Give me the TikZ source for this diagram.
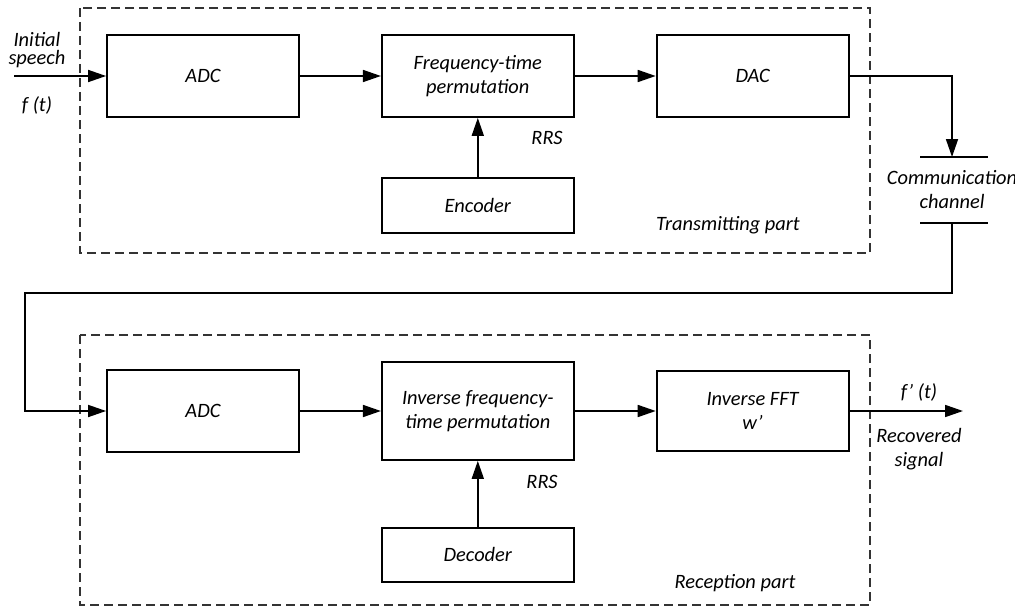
\documentclass[tikz,border=0pt]{standalone}
\usepackage{fontspec}
\setmainfont{Carlito}
\usetikzlibrary{positioning,arrows.meta}

\tikzset{
    block/.style={draw, line width=0.9pt, minimum width=96pt, minimum height=41pt, align=center, inner sep=0pt},
    part/.style={draw=black!80, line width=0.6pt, dash pattern=on 4.5pt off 2.5pt},
    sig/.style={line width=0.85pt, -{Triangle[length=9pt,width=6pt]}},
    wire/.style={line width=0.85pt},
    lbl/.style={align=center, inner sep=0pt}
}

\begin{document}
\begin{tikzpicture}[x=0.5pt, y=-0.5pt, font=\itshape\fontsize{10.2}{12}\selectfont, node distance=40.5pt]
    \useasboundingbox (0,0) rectangle (1015,610);

    % Parts
    \draw[part] (80,8) rectangle (870,253);
    \draw[part] (80,335) rectangle (870,605);
    \node[lbl] (tpart) at (728,225) {Transmitting part};
    \node[lbl] (rpart) at (735,583) {Reception part};

    % Transmitting blocks
    \node[block] (adc1) at (203,76) {ADC};
    \node[block, right=of adc1] (ftp) {Frequency-time\\permutation};
    \node[block, right=of ftp] (dac) {DAC};
    \node[block, minimum height=27.5pt, below=29.5pt of ftp] (enc) {Encoder};
    \node[lbl] (rrs1) at (547,138) {RRS};

    % Reception blocks
    \node[block] (adc2) at (203,411) {ADC};
    \node[block, minimum height=49pt, right=of adc2] (iftp) {Inverse frequency-\\time permutation};
    \node[block, minimum height=40pt, right=of iftp] (ifft) {Inverse FFT\\w'};
    \node[block, minimum height=27pt, below=33pt of iftp] (dec) {Decoder};
    \node[lbl] (rrs2) at (542,482) {RRS};

    % Input and output
    \coordinate (in) at (14,76);
    \node[lbl, font=\itshape\fontsize{10.2}{9}\selectfont] (inlbl) at (37,50) {Initial\\speech};
    \node[lbl] (ft) at (37,105) {f (t)};
    \coordinate (out) at (963,411);
    \node[lbl] (fpt) at (919,392) {f' (t)};
    \node[lbl] (outlbl) at (919,449) {Recovered\\signal};

    % Communication channel
    \coordinate (chtop) at (952,157);
    \coordinate (chbot) at (952,223);
    \coordinate (turn) at (25,293);
    \node[lbl] (chan) at (952,190) {Communication\\channel};
    \draw[wire] (920,157) -- (988,157);
    \draw[wire] (920,223) -- (988,223);

    % Signal flow
    \draw[sig] (in) -- (adc1.west);
    \draw[sig] (adc1) -- (ftp);
    \draw[sig] (ftp) -- (dac);
    \draw[sig] (enc) -- (ftp);
    \draw[sig] (dac.east) -| (chtop);
    \draw[sig] (chbot) |- (turn) |- (adc2.west);
    \draw[sig] (adc2) -- (iftp);
    \draw[sig] (iftp) -- (ifft);
    \draw[sig] (dec) -- (iftp);
    \draw[sig] (ifft.east) -- (out);
\end{tikzpicture}
\end{document}
